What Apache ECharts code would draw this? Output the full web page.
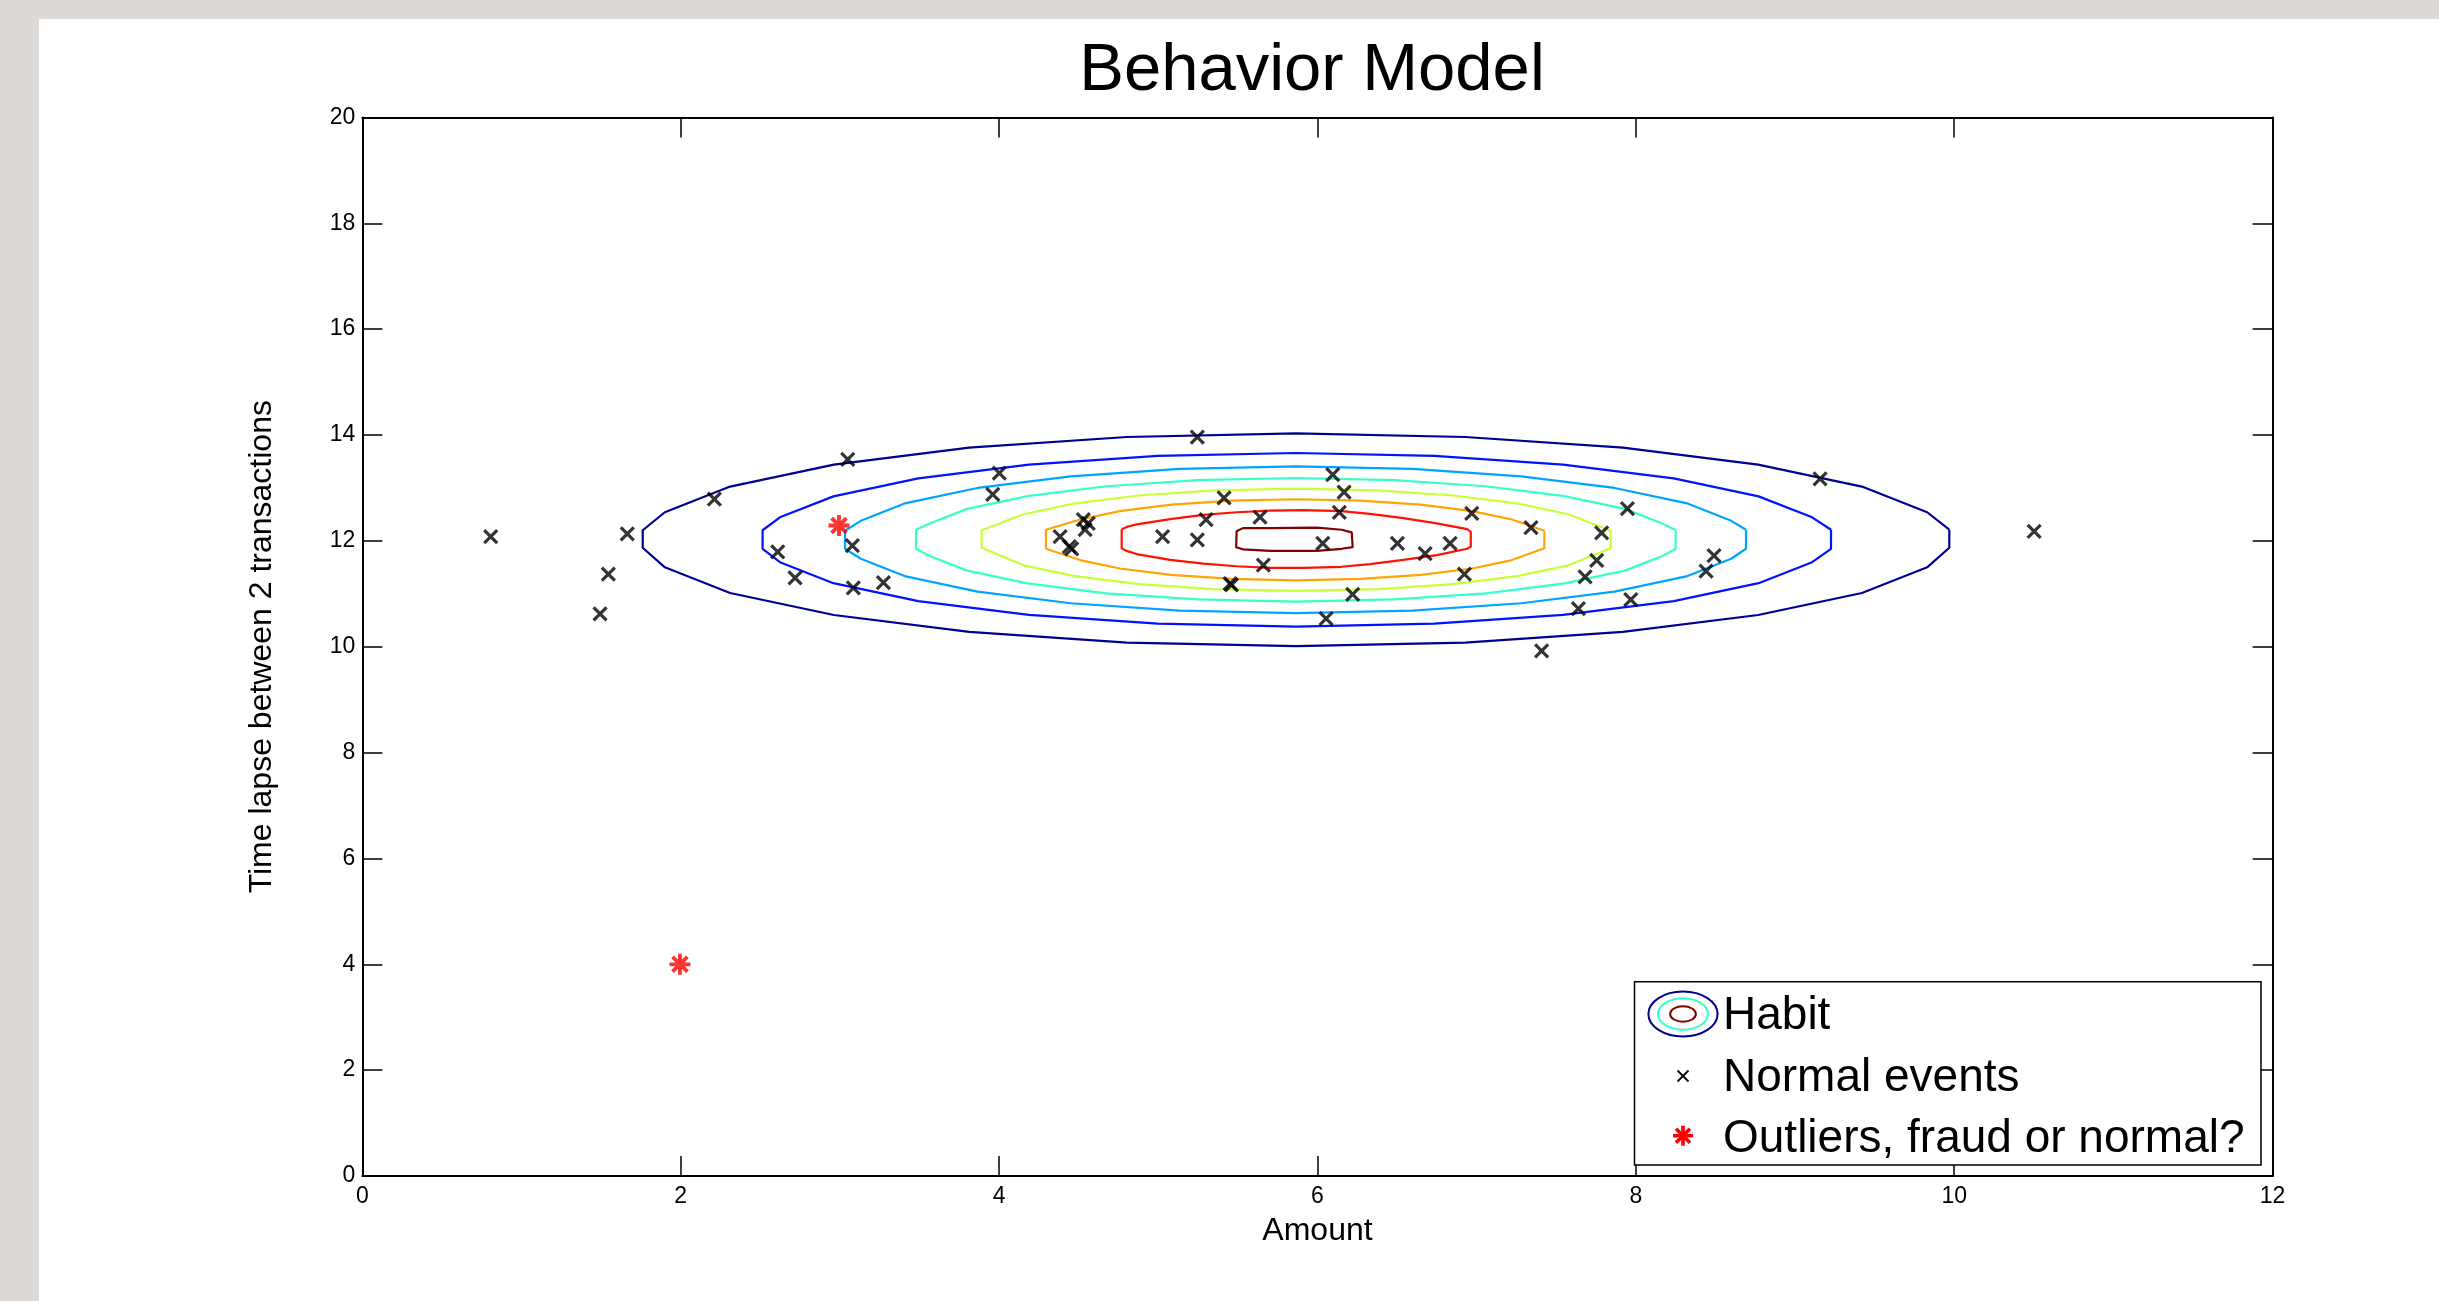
<!DOCTYPE html>
<html><head><meta charset="utf-8">
<script src="https://cdn.jsdelivr.net/npm/echarts/dist/echarts.min.js"></script>
<style>
html,body{margin:0;padding:0;background:#dcd9d6;width:2439px;height:1301px;overflow:hidden;}
#main{position:absolute;left:39px;top:19px;width:2400px;height:1282px;background:#ffffff;}
</style></head><body><div id="main"></div>
<script>
// ---- data ----
const titleText = 'Behavior Model';
const xName = 'Amount';
const yName = 'Time lapse between 2 transactions';
const xTickValues = [0, 2, 4, 6, 8, 10, 12];
const yTickValues = [0, 2, 4, 6, 8, 10, 12, 14, 16, 18, 20];
const legendLabels = ['Habit', 'Normal events', 'Outliers, fraud or normal?'];

// contour lines of the "Habit" model (outer -> inner)
const habit1 = [[9.969,12.21],[9.830,12.540],[9.420,13.025],[8.768,13.441],[7.918,13.761],[6.927,13.962],[5.865,14.030],[4.803,13.962],[3.812,13.761],[2.962,13.441],[2.310,13.025],[1.900,12.540],[1.761,12.20],[1.761,11.87],[1.900,11.500],[2.310,11.015],[2.962,10.599],[3.812,10.279],[4.803,10.078],[5.865,10.010],[6.927,10.078],[7.918,10.279],[8.768,10.599],[9.420,11.015],[9.830,11.500],[9.969,11.87],[9.969,12.21]];
const habit2 = [[9.226,12.21],[9.107,12.444],[8.771,12.840],[8.238,13.180],[7.543,13.440],[6.734,13.604],[5.865,13.660],[4.996,13.604],[4.187,13.440],[3.492,13.180],[2.959,12.840],[2.623,12.444],[2.514,12.20],[2.514,11.85],[2.623,11.596],[2.959,11.200],[3.492,10.860],[4.187,10.600],[4.996,10.436],[5.865,10.380],[6.734,10.436],[7.543,10.600],[8.238,10.860],[8.771,11.200],[9.107,11.596],[9.226,11.85],[9.226,12.21]];
const habit3 = [[8.692,12.21],[8.599,12.378],[8.316,12.713],[7.866,12.999],[7.280,13.219],[6.597,13.358],[5.865,13.405],[5.133,13.358],[4.450,13.219],[3.864,12.999],[3.414,12.713],[3.131,12.378],[3.032,12.19],[3.032,11.85],[3.131,11.662],[3.414,11.328],[3.864,11.041],[4.450,10.821],[5.133,10.682],[5.865,10.635],[6.597,10.682],[7.280,10.821],[7.866,11.041],[8.316,11.328],[8.599,11.662],[8.692,11.85],[8.692,12.21]];
const habit4 = [[8.250,12.20],[8.170,12.322],[7.931,12.604],[7.552,12.845],[7.058,13.031],[6.483,13.147],[5.865,13.187],[5.247,13.147],[4.672,13.031],[4.178,12.845],[3.799,12.604],[3.560,12.322],[3.478,12.21],[3.478,11.85],[3.560,11.718],[3.799,11.437],[4.178,11.195],[4.672,11.009],[5.247,10.893],[5.865,10.853],[6.483,10.893],[7.058,11.009],[7.552,11.195],[7.931,11.437],[8.170,11.718],[8.250,11.85],[8.250,12.20]];
const habit5 = [[7.842,12.19],[7.576,12.503],[7.262,12.703],[6.853,12.857],[6.376,12.953],[5.865,12.986],[5.354,12.953],[4.877,12.857],[4.468,12.703],[4.154,12.503],[3.890,12.20],[3.890,11.87],[4.154,11.537],[4.468,11.337],[4.877,11.183],[5.354,11.087],[5.865,11.054],[6.376,11.087],[6.853,11.183],[7.262,11.337],[7.576,11.537],[7.842,11.86],[7.842,12.19]];
const habit6 = [[7.425,12.19],[7.221,12.403],[6.972,12.562],[6.648,12.683],[6.270,12.760],[5.865,12.786],[5.460,12.760],[5.082,12.683],[4.758,12.562],[4.509,12.403],[4.294,12.21],[4.294,11.85],[4.509,11.637],[4.758,11.478],[5.082,11.357],[5.460,11.280],[5.865,11.254],[6.270,11.280],[6.648,11.357],[6.972,11.478],[7.221,11.637],[7.425,11.86],[7.425,12.19]];
const habit7 = [[4.770,12.22],[4.810,12.27],[4.864,12.31],[5.074,12.41],[5.283,12.49],[5.493,12.54],[5.702,12.57],[5.911,12.58],[6.150,12.56],[6.330,12.51],[6.539,12.43],[6.749,12.33],[6.940,12.22],[6.963,12.17],[6.963,11.89],[6.940,11.85],[6.749,11.73],[6.539,11.64],[6.330,11.56],[6.150,11.51],[5.911,11.49],[5.702,11.49],[5.493,11.52],[5.283,11.57],[5.074,11.64],[4.864,11.75],[4.800,11.81],[4.770,11.86],[4.770,12.22]];
const habit8 = [[5.531,12.24],[5.492,12.18],[5.489,11.88],[5.531,11.84],[5.702,11.81],[5.995,11.81],[6.152,11.85],[6.221,11.88],[6.215,12.16],[6.152,12.21],[5.995,12.25],[5.702,12.24],[5.531,12.24]];
const habitColors = ['#00008f', '#0012ff', '#00a4ff', '#36ffc8', '#c8ff36', '#ffa400', '#ff1200', '#800000'];

// normal events (black x)
const normalEvents = [[0.806,12.08],[1.664,12.13],[1.545,11.37],[1.493,10.62],[2.211,12.79],[3.049,13.54],[3.078,11.91],[2.609,11.79],[2.718,11.30],[3.084,11.11],
[3.273,11.21],[4.001,13.28],[3.960,12.88],[5.245,13.96],[5.413,12.81],[4.529,12.40],[4.560,12.33],[4.540,12.21],[4.383,12.08],[4.441,11.89],[4.456,11.85],[5.027,12.08],[5.245,12.02],[5.300,12.40],[5.639,12.45],[5.660,11.54],[5.451,11.19],[5.460,11.17],
[6.096,13.25],[6.167,12.92],[6.137,12.54],[6.033,11.95],[6.502,11.95],[6.676,11.76],[6.833,11.95],[6.969,12.52],[6.221,10.99],[6.054,10.53],[6.923,11.37],[7.341,12.25],[7.785,12.15],[7.754,11.63],[7.681,11.32],[7.947,12.61],[7.639,10.72],[7.968,10.89],[7.408,9.92],
[9.157,13.17],[8.491,11.72],[8.441,11.43],[10.502,12.18]];

// outliers (red asterisk)
const outliers = [[2.994,12.29],[1.995,4.00]];

// ---- chart ----
const FONT = '"Liberation Sans", Arial, Helvetica, sans-serif';
const habitLevels = [habit1, habit2, habit3, habit4, habit5, habit6, habit7, habit8];
const X_SYMBOL = 'path://M0,0L10,10M10,0L0,10';
const STAR_SYMBOL = 'path://M5,0L5,10M0,5L10,5M1.46,1.46L8.54,8.54M8.54,1.46L1.46,8.54';

function axisCommon(ticks) {
  return {
    type: 'value', min: ticks[0], max: ticks[ticks.length - 1], interval: ticks[1] - ticks[0],
    axisLine: { show: true, onZero: false, lineStyle: { color: '#000', width: 2 } },
    axisTick: { show: true, inside: true, length: 20, lineStyle: { color: '#000', width: 1.5 } },
    splitLine: { show: false }
  };
}

const chart = echarts.init(document.getElementById('main'), null, { renderer: 'canvas' });

const series = habitLevels.map((pts, i) => ({
  type: 'line', data: pts, showSymbol: false, symbol: 'none', silent: true, z: 2,
  lineStyle: { color: habitColors[i], width: 2.2 }, animation: false
}));
series.push({
  type: 'scatter', data: normalEvents, symbol: X_SYMBOL, symbolSize: 13, silent: true, z: 3,
  itemStyle: { color: 'rgba(0,0,0,0)', borderColor: '#000', borderWidth: 3.2 }
});
series.push({
  type: 'scatter', data: outliers, symbol: STAR_SYMBOL, symbolSize: 21, silent: true, z: 4,
  itemStyle: { color: 'rgba(0,0,0,0)', borderColor: '#ff0000', borderWidth: 3.8 }
});

// legend box (pixel layout, drawn as graphics)
const LX = 1595.5, LY = 962.7;
const iconX = 1644;
const rowY = [997.7, 1059, 1120];
const sy = 1116.7;
const legendEls = [
  { type: 'rect', shape: { x: LX, y: LY, width: 626.5, height: 183.3 }, style: { fill: '#fff', stroke: '#000', lineWidth: 1.5 } },
  { type: 'ellipse', shape: { cx: iconX, cy: 995, rx: 34.6, ry: 22.5 }, style: { fill: 'none', stroke: habitColors[0], lineWidth: 2 } },
  { type: 'ellipse', shape: { cx: iconX, cy: 995, rx: 25, ry: 15.8 }, style: { fill: 'none', stroke: habitColors[3], lineWidth: 2 } },
  { type: 'ellipse', shape: { cx: iconX, cy: 995, rx: 12.9, ry: 7.8 }, style: { fill: 'none', stroke: habitColors[7], lineWidth: 2 } },
  { type: 'line', shape: { x1: iconX - 5.5, y1: 1057 - 5.5, x2: iconX + 5.5, y2: 1057 + 5.5 }, style: { stroke: '#000', lineWidth: 1.8 } },
  { type: 'line', shape: { x1: iconX + 5.5, y1: 1057 - 5.5, x2: iconX - 5.5, y2: 1057 + 5.5 }, style: { stroke: '#000', lineWidth: 1.8 } },
  { type: 'line', shape: { x1: iconX, y1: sy - 10, x2: iconX, y2: sy + 10 }, style: { stroke: '#ff0000', lineWidth: 3.6 } },
  { type: 'line', shape: { x1: iconX - 10, y1: sy, x2: iconX + 10, y2: sy }, style: { stroke: '#ff0000', lineWidth: 3.6 } },
  { type: 'line', shape: { x1: iconX - 7, y1: sy - 7, x2: iconX + 7, y2: sy + 7 }, style: { stroke: '#ff0000', lineWidth: 3.6 } },
  { type: 'line', shape: { x1: iconX + 7, y1: sy - 7, x2: iconX - 7, y2: sy + 7 }, style: { stroke: '#ff0000', lineWidth: 3.6 } }
];
legendLabels.forEach((t, i) => {
  legendEls.push({ type: 'text', x: 1684, y: rowY[i], style: { text: t, fontSize: 46, fontFamily: FONT, fill: '#000', align: 'left', verticalAlign: 'middle' } });
});
legendEls.push({ type: 'text', x: 1273, y: 52.5, style: { text: titleText, fontSize: 67, fontFamily: FONT, fill: '#000', align: 'center', verticalAlign: 'middle' } });

const option = {
  animation: false,
  backgroundColor: '#ffffff',
  grid: { left: 323.4, right: 166.4, top: 98.4, bottom: 125, containLabel: false },
  xAxis: [
    Object.assign(axisCommon(xTickValues), {
      position: 'bottom', name: xName, nameLocation: 'middle', nameGap: 39,
      nameTextStyle: { fontSize: 32, color: '#000', fontFamily: FONT },
      axisLabel: { color: '#000', fontSize: 23, fontFamily: FONT, margin: 9 }
    }),
    Object.assign(axisCommon(xTickValues), { position: 'top', axisLabel: { show: false } })
  ],
  yAxis: [
    Object.assign(axisCommon(yTickValues), {
      position: 'left', name: yName, nameLocation: 'middle', nameGap: 84,
      nameTextStyle: { fontSize: 32, color: '#000', fontFamily: FONT },
      axisLabel: { color: '#000', fontSize: 23, fontFamily: FONT, margin: 7 }
    }),
    Object.assign(axisCommon(yTickValues), { position: 'right', axisLabel: { show: false } })
  ],
  series: series,
  graphic: { elements: legendEls.map(e => Object.assign({ z: 100, silent: true }, e)) }
};
chart.setOption(option);
</script></body></html>
